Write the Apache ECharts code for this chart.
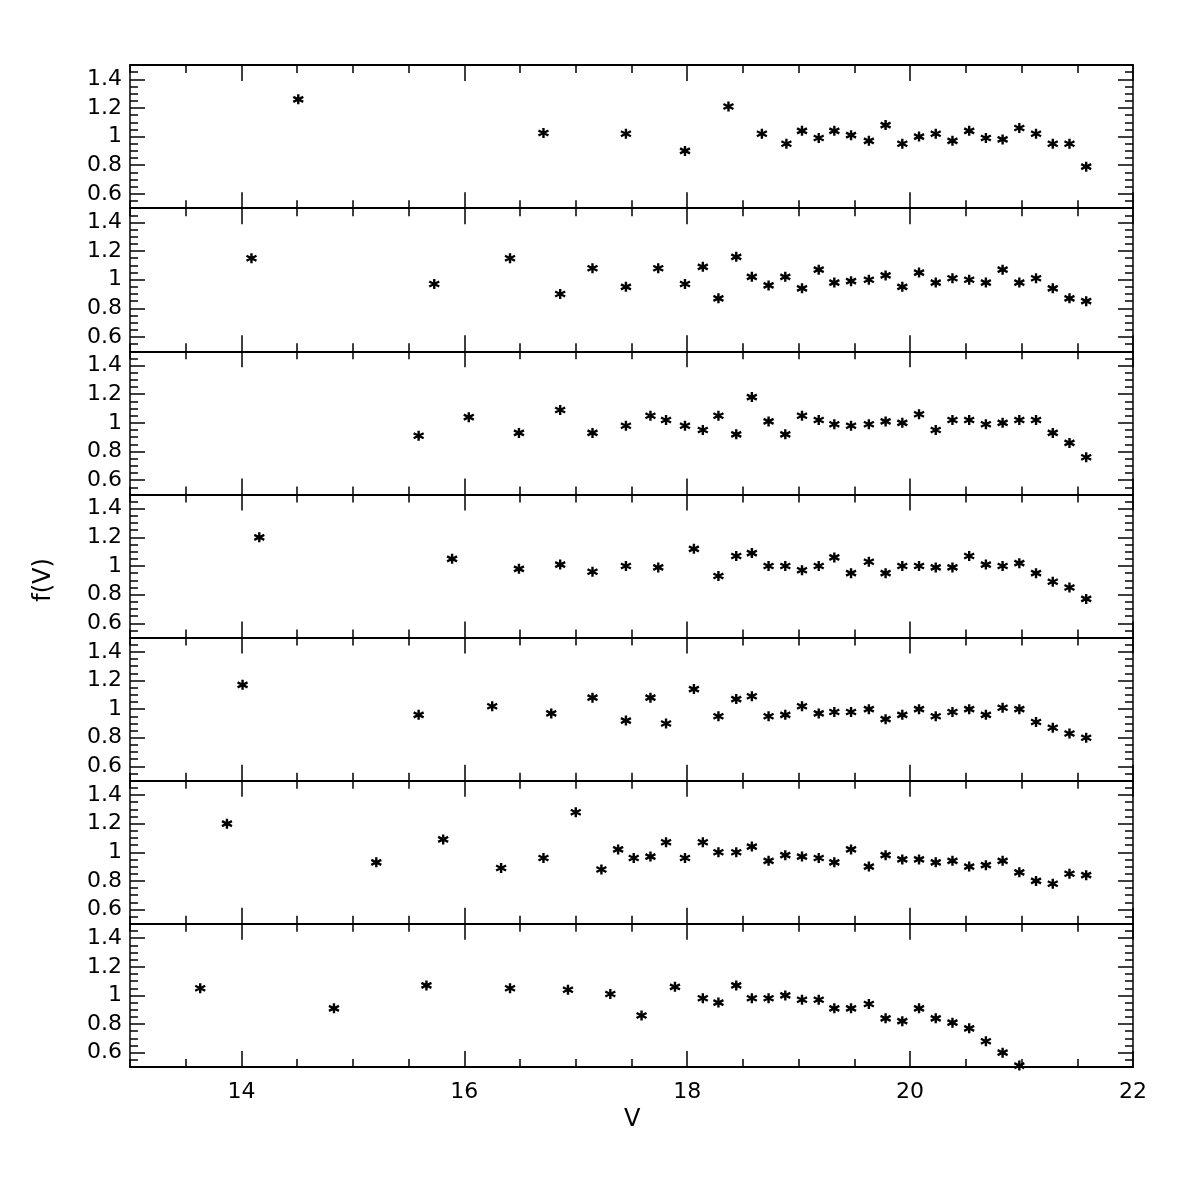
<!DOCTYPE html>
<html><head><meta charset="utf-8">
<script src="https://cdn.jsdelivr.net/npm/echarts@6/dist/echarts.min.js"></script>
<style>html,body{margin:0;padding:0;background:#fff}#c{width:1196px;height:1196px}</style>
</head><body><div id="c"></div>
<script>
const p1x=[14.51,16.71,17.45,17.98,18.37,18.67,18.89,19.03,19.18,19.32,19.47,19.63,19.78,19.93,20.08,20.23,20.38,20.53,20.68,20.83,20.98,21.13,21.28,21.43,21.58];
const p1y=[1.26,1.025,1.02,0.90,1.21,1.02,0.95,1.04,0.99,1.04,1.01,0.97,1.08,0.95,1.0,1.02,0.97,1.04,0.99,0.98,1.06,1.02,0.95,0.95,0.79];
const p2x=[14.09,15.73,16.41,16.86,17.15,17.45,17.74,17.98,18.14,18.28,18.44,18.58,18.73,18.88,19.03,19.18,19.32,19.47,19.63,19.78,19.93,20.08,20.23,20.38,20.53,20.68,20.83,20.98,21.13,21.28,21.43,21.58];
const p2y=[1.15,0.97,1.15,0.90,1.08,0.95,1.08,0.97,1.09,0.87,1.16,1.02,0.96,1.02,0.94,1.07,0.98,0.99,1.0,1.03,0.95,1.05,0.98,1.01,1.0,0.98,1.07,0.98,1.01,0.94,0.87,0.85];
const p3x=[15.59,16.04,16.49,16.86,17.15,17.45,17.67,17.81,17.98,18.14,18.28,18.44,18.58,18.73,18.88,19.03,19.18,19.32,19.47,19.63,19.78,19.93,20.08,20.23,20.38,20.53,20.68,20.83,20.98,21.13,21.28,21.43,21.58];
const p3y=[0.91,1.04,0.93,1.09,0.93,0.98,1.05,1.02,0.98,0.95,1.05,0.92,1.18,1.01,0.92,1.05,1.02,0.99,0.98,0.99,1.01,1.0,1.06,0.95,1.02,1.02,0.99,1.0,1.02,1.02,0.93,0.86,0.76];
const p4x=[14.16,15.89,16.49,16.86,17.15,17.45,17.74,18.06,18.28,18.44,18.58,18.73,18.88,19.03,19.18,19.32,19.47,19.63,19.78,19.93,20.08,20.23,20.38,20.53,20.68,20.83,20.98,21.13,21.28,21.43,21.58];
const p4y=[1.20,1.05,0.98,1.01,0.96,1.0,0.99,1.12,0.93,1.07,1.09,1.0,1.0,0.97,1.0,1.06,0.95,1.03,0.95,1.0,1.0,0.99,0.99,1.07,1.01,1.0,1.02,0.95,0.89,0.85,0.77];
const p5x=[14.01,15.59,16.25,16.78,17.15,17.45,17.67,17.81,18.06,18.28,18.44,18.58,18.73,18.88,19.03,19.18,19.32,19.47,19.63,19.78,19.93,20.08,20.23,20.38,20.53,20.68,20.83,20.98,21.13,21.28,21.43,21.58];
const p5y=[1.17,0.96,1.02,0.97,1.08,0.92,1.08,0.90,1.14,0.95,1.07,1.09,0.95,0.96,1.02,0.97,0.98,0.98,1.0,0.93,0.96,1.0,0.95,0.98,1.0,0.96,1.01,1.0,0.91,0.87,0.83,0.80];
const p6x=[13.87,15.21,15.81,16.33,16.71,17.0,17.23,17.38,17.52,17.67,17.81,17.98,18.14,18.28,18.44,18.58,18.73,18.88,19.03,19.18,19.32,19.47,19.63,19.78,19.93,20.08,20.23,20.38,20.53,20.68,20.83,20.98,21.13,21.28,21.43,21.58];
const p6y=[1.20,0.93,1.09,0.89,0.96,1.28,0.88,1.02,0.96,0.97,1.07,0.96,1.07,1.0,1.0,1.04,0.94,0.98,0.97,0.96,0.93,1.02,0.90,0.98,0.95,0.95,0.93,0.94,0.90,0.91,0.94,0.86,0.80,0.78,0.85,0.84];
const p7x=[13.63,14.83,15.66,16.41,16.93,17.31,17.59,17.89,18.14,18.28,18.44,18.58,18.73,18.88,19.03,19.18,19.32,19.47,19.63,19.78,19.93,20.08,20.23,20.38,20.53,20.68,20.83,20.98];
const p7y=[1.05,0.91,1.07,1.05,1.04,1.01,0.86,1.06,0.98,0.95,1.07,0.98,0.98,1.0,0.97,0.97,0.91,0.91,0.94,0.84,0.82,0.91,0.84,0.81,0.77,0.68,0.60,0.51];
const panels=[[p1x,p1y],[p2x,p2y],[p3x,p3y],[p4x,p4y],[p5x,p5y],[p6x,p6y],[p7x,p7y]];
const yLabelVals=[0.6,0.8,1,1.2,1.4];
const xLabelVals=[14,16,18,20,22];

const top0=65, ph=(1067-65)/7;
const grid=[],xAxis=[],yAxis=[],series=[];
const font={fontFamily:'DejaVu Sans',fontSize:22,color:'#000'};
panels.forEach((p,i)=>{
  grid.push({left:130,right:63,top:top0+i*ph,height:ph});
  const last=i===6;
  const base=xAxis.length;
  ['bottom','top'].forEach(pos=>{
    xAxis.push({gridIndex:i,type:'value',min:13,max:22,interval:0.5,position:pos,axisLine:{show:true,onZero:false,lineStyle:{color:'#000',width:2}},
      axisTick:{show:true,inside:true,length:8,lineStyle:{color:'#000',width:1.5}},axisLabel:{show:false},splitLine:{show:false}});
    xAxis.push({gridIndex:i,type:'value',min:13,max:22,position:pos,axisLine:{show:false,onZero:false},
      axisTick:{show:true,inside:true,length:16,customValues:xLabelVals,lineStyle:{color:'#000',width:1.5}},
      axisLabel:{show:last&&pos==='bottom',customValues:xLabelVals,margin:14,...font},splitLine:{show:false}});
  });
  const ybase=yAxis.length;
  ['left','right'].forEach(pos=>{
    yAxis.push({gridIndex:i,type:'value',min:0.5,max:1.5,interval:0.05,position:pos,axisLine:{show:true,onZero:false,lineStyle:{color:'#000',width:1.5}},
      axisTick:{show:true,inside:true,length:8,lineStyle:{color:'#000',width:1.5}},axisLabel:{show:false},splitLine:{show:false}});
    yAxis.push({gridIndex:i,type:'value',min:0.5,max:1.5,position:pos,axisLine:{show:false,onZero:false},
      axisTick:{show:true,inside:true,length:15,customValues:yLabelVals,lineStyle:{color:'#000',width:1.5}},
      axisLabel:{show:pos==='left',customValues:yLabelVals,margin:8,...font},splitLine:{show:false}});
  });
  series.push({type:'scatter',xAxisIndex:base,yAxisIndex:ybase,data:p[0].map((x,k)=>[x,p[1][k]]),
    symbol:'path://M0,-1L0,1M-0.87,-0.5L0.87,0.5M-0.87,0.5L0.87,-0.5M0,-1Z',symbolSize:10,
    itemStyle:{color:'none',borderColor:'#000',borderWidth:2.4,opacity:1},silent:true});
});
const chart=echarts.init(document.getElementById('c'),null,{renderer:'canvas'});
chart.setOption({animation:false,grid,xAxis,yAxis,series,
  graphic:[
    {type:'text',left:624,top:1108,style:{text:'V',font:'24px DejaVu Sans',fill:'#000'}},
    {type:'text',x:32,y:580,rotation:Math.PI/2,style:{text:'f(V)',font:'24px DejaVu Sans',fill:'#000',textAlign:'center',textVerticalAlign:'top'}}
  ]});
</script></body></html>
